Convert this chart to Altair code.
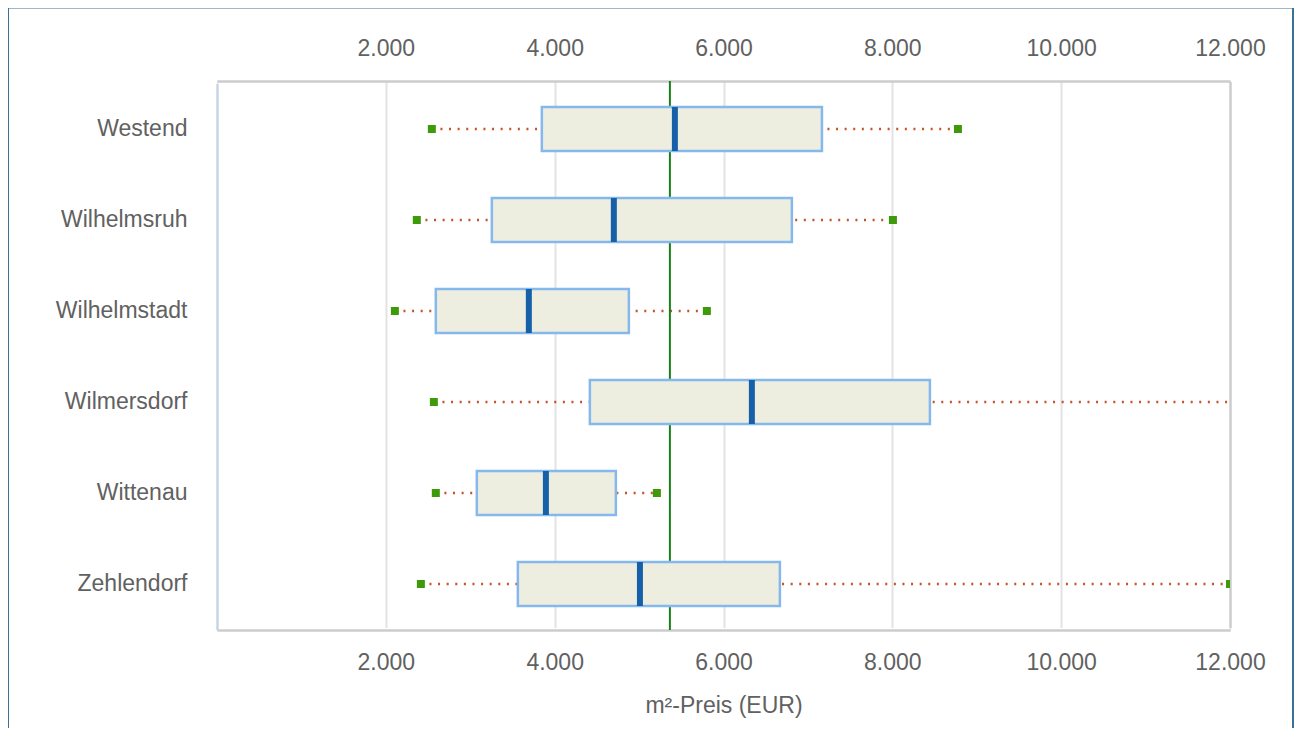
import altair as alt
import pandas as pd

districts = ["Westend", "Wilhelmsruh", "Wilhelmstadt", "Wilmersdorf", "Wittenau", "Zehlendorf"]
p_min = [2545, 2367, 2107, 2569, 2592, 2415]
p_q1 = [3848, 3256, 2592, 4417, 3078, 3564]
p_median = [5424, 4701, 3694, 6336, 3896, 5010]
p_q3 = [7166, 6810, 4879, 8445, 4725, 6668]
p_max = [8777, 8007, 5803, 12600, 5211, 12000]
mean_price = [5365]
tick_values = [2000, 4000, 6000, 8000, 10000, 12000]

df = pd.DataFrame({"district": districts, "min": p_min, "q1": p_q1, "median": p_median,
                   "q3": p_q3, "max": p_max})
mean_df = pd.DataFrame({"mean": mean_price})

FONT = "Liberation Sans"
TXT = "#616161"
dom = [0, 12000]
xs = alt.Scale(domain=dom, nice=False, zero=False)

yenc = alt.Y("district:N", sort=districts,
             scale=alt.Scale(paddingInner=0, paddingOuter=0, range=[2.5, 548.5]),
             axis=alt.Axis(title=None, ticks=False, labelFontSize=23, labelColor=TXT, labelFont=FONT,
                           labelPadding=30, domainColor="#c8d4e6", domainWidth=2.5, grid=False))

base = alt.Chart(df)

whisker = base.mark_rule(color="#c4532b", strokeWidth=2.3, strokeDash=[2, 6.6], clip=True).encode(
    x=alt.X("min:Q", scale=xs, axis=None), x2="max:Q", y=yenc)

mean_rule = alt.Chart(mean_df).mark_rule(color="#1a7f1a", strokeWidth=2).encode(
    x=alt.X("mean:Q", scale=xs,
            axis=alt.Axis(orient="top", values=tick_values, title=None, grid=False, ticks=False,
                          labelExpr="replace(format(datum.value, ','), ',', '.')", labelFlush=False,
                          labelFontSize=23, labelColor=TXT, labelFont=FONT, labelPadding=21,
                          domainColor="#cccccc", domainWidth=2.5)))

box = base.mark_bar(size=44, fill="#eeeee0", stroke="#85b8ec", strokeWidth=2.5).encode(
    x=alt.X("q1:Q", scale=xs,
            axis=alt.Axis(orient="bottom", values=tick_values, title="m²-Preis (EUR)", ticks=False,
                          labelExpr="replace(format(datum.value, ','), ',', '.')", labelFlush=False,
                          labelFontSize=23, labelColor=TXT, labelFont=FONT, labelPadding=21,
                          titleFontSize=23, titleColor=TXT, titleFont=FONT, titleFontWeight="normal",
                          titlePadding=20, domainColor="#cccccc", domainWidth=2.5,
                          grid=True,
                          gridColor={"condition": {"test": "datum.value === 12000", "value": "#cccccc"},
                                     "value": "#e3e3e3"},
                          gridWidth={"condition": {"test": "datum.value === 12000", "value": 2.5},
                                     "value": 2})),
    x2="q3:Q", y=yenc)

med = base.mark_tick(orient="vertical", thickness=6, size=44, color="#1560a8", opacity=1).encode(
    x=alt.X("median:Q", scale=xs, axis=None), y=yenc)

sq_min = base.mark_square(size=64, color="#3f9a0a", opacity=1, clip=True).encode(
    x=alt.X("min:Q", scale=xs, axis=None), y=yenc)
sq_max = base.mark_square(size=64, color="#3f9a0a", opacity=1, clip=True).encode(
    x=alt.X("max:Q", scale=xs, axis=None), y=yenc)

border = alt.Chart(mean_df).mark_rect(fill=None, stroke="#3b7099", strokeWidth=2, clip=False).encode(
    x=alt.value(-209), x2=alt.value(1076), y=alt.value(-73.5), y2=alt.value(760))

chart = alt.layer(border, whisker, mean_rule, box, med, sq_min, sq_max).resolve_axis(
    x="independent").properties(
    width=1013, height=549,
    autosize=alt.AutoSizeParams(type="none"),
    padding={"left": 209, "top": 73, "right": 64, "bottom": 98},
).configure_view(stroke=None).configure(font=FONT)

chart.save("out.html", embed_options={"renderer": "svg", "actions": False})
